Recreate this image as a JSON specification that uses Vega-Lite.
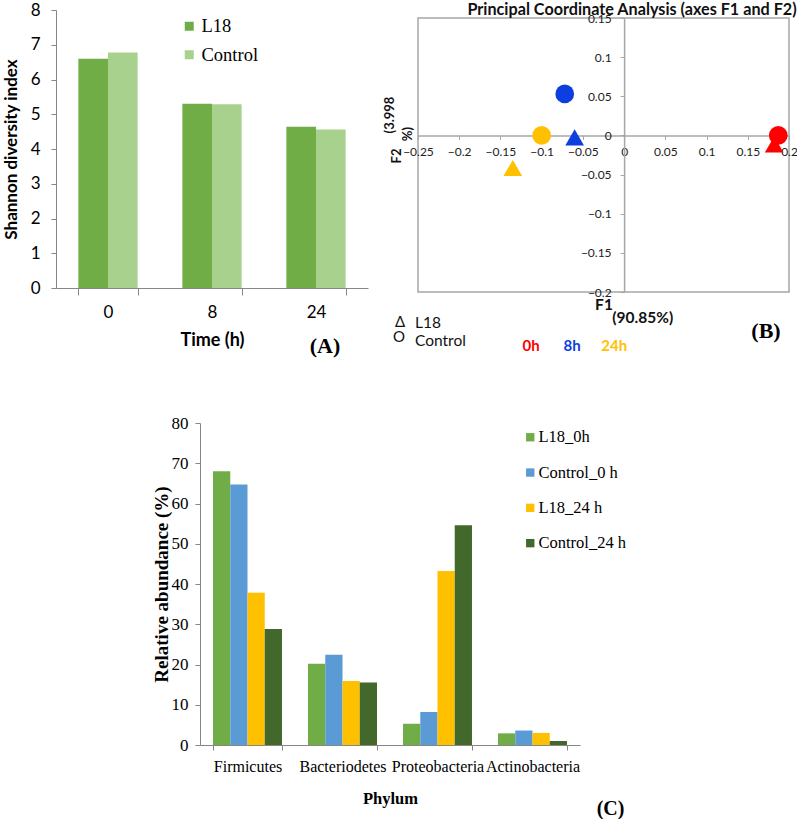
{
  "$schema": "https://vega.github.io/schema/vega-lite/v6.json",
  "background": "white",
  "padding": {"left": 2, "top": 1, "right": 0, "bottom": 0},
  "config": {
    "view": {"stroke": null},
    "axis": {"grid": false, "domainColor": "#868686", "tickColor": "#868686", "labelColor": "#000000", "titleColor": "#000000", "labelOverlap": false}
  },
  "resolve": {"scale": {"color": "independent", "shape": "independent", "x": "independent", "y": "independent", "xOffset": "independent"}, "legend": {"color": "independent", "shape": "independent"}},
  "spacing": 56,
  "vconcat": [
    {
      "hconcat": [
        {
          "width": 312,
          "height": 278,
          "data": {"values": [
            {"Time": "0", "Group": "L18", "Shannon": 6.6},
            {"Time": "0", "Group": "Control", "Shannon": 6.78},
            {"Time": "8", "Group": "L18", "Shannon": 5.3},
            {"Time": "8", "Group": "Control", "Shannon": 5.29},
            {"Time": "24", "Group": "L18", "Shannon": 4.64},
            {"Time": "24", "Group": "Control", "Shannon": 4.56}
          ]},
          "layer": [
            {
              "mark": {"type": "bar"},
              "encoding": {
                "x": {"field": "Time", "type": "nominal", "sort": ["0", "8", "24"],
                  "scale": {"paddingInner": 0.43, "paddingOuter": 0.215},
                  "axis": {"title": "Time (h)", "labelAngle": 0, "tickBand": "extent", "tickSize": 7, "labelPadding": 9,
                    "labelFont": "Lato", "labelFontSize": 17, "titleFont": "Lato", "titleFontSize": 18, "titleFontWeight": "bold", "titlePadding": 11}},
                "xOffset": {"field": "Group", "type": "nominal", "sort": ["L18", "Control"]},
                "y": {"field": "Shannon", "type": "quantitative", "scale": {"domain": [0, 8], "nice": false},
                  "axis": {"title": "Shannon diversity index", "values": [0, 1, 2, 3, 4, 5, 6, 7, 8], "tickCount": 20, "format": "d", "tickSize": 5, "labelPadding": 11, "labelOverlap": false,
                    "labelFont": "Lato", "labelFontSize": 17, "titleFont": "Lato", "titleFontSize": 17, "titleFontWeight": "bold", "titlePadding": 10}},
                "color": {"field": "Group", "type": "nominal", "sort": ["L18", "Control"],
                  "scale": {"domain": ["L18", "Control"], "range": ["#70AD47", "#A9D18E"]},
                  "legend": {"title": null, "orient": "none", "legendX": 124, "legendY": 7, "padding": 0, "symbolType": "square", "symbolSize": 81,
                    "symbolStrokeWidth": 0, "labelFont": "Liberation Serif", "labelFontSize": 18.5, "labelColor": "#000000", "rowPadding": 9.5, "labelOffset": 3}}
              }
            },
            {
              "data": {"values": [{}]},
              "mark": {"type": "text", "font": "Liberation Serif", "fontSize": 22, "fontWeight": "bold", "dx": 9, "color": "#000000"},
              "encoding": {"x": {"datum": "24"}, "y": {"datum": -1.68}, "text": {"value": "(A)"}}
            }
          ]
        },
        {
          "vconcat": [
            {
              "width": 1,
              "height": 1,
              "data": {"values": [{}]},
              "mark": {"type": "point", "opacity": 0, "size": 0},
              "encoding": {}
            },
            {
              "width": 371,
              "height": 274,
              "view": {"stroke": "#A6A6A6", "strokeWidth": 1.5},
              "layer": [
                {
                  "data": {"values": [
                    {"Group": "L18", "Time": "0h", "F1": 0.182, "F2": -0.0116},
                    {"Group": "L18", "Time": "8h", "F1": -0.06, "F2": -0.0026},
                    {"Group": "L18", "Time": "24h", "F1": -0.135, "F2": -0.0416},
                    {"Group": "Control", "Time": "0h", "F1": 0.187, "F2": 0.0},
                    {"Group": "Control", "Time": "8h", "F1": -0.072, "F2": 0.053},
                    {"Group": "Control", "Time": "24h", "F1": -0.1, "F2": 0.0}
                  ]},
                  "mark": {"type": "point", "filled": true, "opacity": 1, "size": 350},
                  "encoding": {
                    "x": {"field": "F1", "type": "quantitative", "scale": {"domain": [-0.25, 0.2], "nice": false, "zero": false},
                      "axis": {"title": null, "orient": "bottom", "offset": -156.6, "values": [-0.25, -0.2, -0.15, -0.1, -0.05, 0, 0.05, 0.1, 0.15, 0.2], "tickCount": 20,
                        "format": "~g", "tickSize": 4, "labelPadding": 7, "labelFont": "Lato", "labelFontSize": 12, "labelColor": "#222222",
                        "labelFlush": false, "labelOverlap": false, "domainColor": "#A6A6A6", "domainWidth": 1.5, "tickColor": "#A6A6A6"}},
                    "y": {"field": "F2", "type": "quantitative", "scale": {"domain": [-0.2, 0.15], "nice": false, "zero": false},
                      "axis": {"title": null, "orient": "left", "offset": -206.1, "values": [-0.2, -0.15, -0.1, -0.05, 0, 0.05, 0.1, 0.15], "tickCount": 20,
                        "format": "~g", "tickSize": 4, "labelPadding": 9, "labelFont": "Lato", "labelFontSize": 12, "labelColor": "#222222",
                        "labelFlush": false, "labelOverlap": false, "domainColor": "#A6A6A6", "domainWidth": 1.5, "tickColor": "#A6A6A6"}},
                    "shape": {"field": "Group", "type": "nominal", "scale": {"domain": ["L18", "Control"], "range": ["triangle-up", "circle"]}, "legend": null},
                    "color": {"field": "Time", "type": "nominal", "scale": {"domain": ["0h", "8h", "24h"], "range": ["#FF0000", "#0D3FE0", "#FFC000"]}, "legend": null}
                  }
                },
                {"data": {"values": [{}]}, "mark": {"type": "text", "font": "Lato", "fontSize": 16.2, "fontWeight": "bold", "color": "#111111", "align": "center", "baseline": "middle"},
                  "encoding": {"x": {"datum": 0.0096}, "y": {"datum": 0.1602}, "text": {"value": "Principal Coordinate Analysis (axes F1 and F2)"}}},
                {"data": {"values": [{}]}, "mark": {"type": "text", "font": "Lato", "fontSize": 15.5, "fontWeight": "bold", "color": "#111111", "align": "center", "baseline": "middle"},
                  "encoding": {"x": {"datum": -0.0244}, "y": {"datum": -0.2166}, "text": {"value": "F1"}}},
                {"data": {"values": [{}]}, "mark": {"type": "text", "font": "Lato", "fontSize": 15.5, "fontWeight": "bold", "color": "#111111", "align": "center", "baseline": "middle"},
                  "encoding": {"x": {"datum": 0.0226}, "y": {"datum": -0.2332}, "text": {"value": "(90.85%)"}}},
                {"data": {"values": [{}]}, "mark": {"type": "text", "font": "Lato", "fontSize": 13, "fontWeight": "bold", "color": "#111111", "align": "center", "baseline": "middle", "angle": 270},
                  "encoding": {"x": {"datum": -0.2834}, "y": {"datum": 0.0261}, "text": {"value": "(3.998"}}},
                {"data": {"values": [{}]}, "mark": {"type": "text", "font": "Lato", "fontSize": 13, "fontWeight": "bold", "color": "#111111", "align": "center", "baseline": "middle", "angle": 270},
                  "encoding": {"x": {"datum": -0.2755}, "y": {"datum": -0.0263}, "text": {"value": "F2"}}},
                {"data": {"values": [{}]}, "mark": {"type": "text", "font": "Lato", "fontSize": 13, "fontWeight": "bold", "color": "#111111", "align": "center", "baseline": "middle", "angle": 270},
                  "encoding": {"x": {"datum": -0.2621}, "y": {"datum": 0.0018}, "text": {"value": "%)"}}},
                {"data": {"values": [{}]}, "mark": {"type": "text", "font": "Lato", "fontSize": 15, "color": "#111111", "align": "center", "baseline": "middle"},
                  "encoding": {"x": {"datum": -0.2718}, "y": {"datum": -0.2377}, "text": {"value": "Δ"}}},
                {"data": {"values": [{}]}, "mark": {"type": "text", "font": "Lato", "fontSize": 15, "color": "#111111", "align": "center", "baseline": "middle"},
                  "encoding": {"x": {"datum": -0.273}, "y": {"datum": -0.2575}, "text": {"value": "O"}}},
                {"data": {"values": [{}]}, "mark": {"type": "text", "font": "Lato", "fontSize": 15.5, "color": "#111111", "align": "left", "baseline": "middle"},
                  "encoding": {"x": {"datum": -0.2536}, "y": {"datum": -0.2396}, "text": {"value": "L18"}}},
                {"data": {"values": [{}]}, "mark": {"type": "text", "font": "Lato", "fontSize": 15.5, "color": "#111111", "align": "left", "baseline": "middle"},
                  "encoding": {"x": {"datum": -0.2536}, "y": {"datum": -0.2626}, "text": {"value": "Control"}}},
                {"data": {"values": [{}]}, "mark": {"type": "text", "font": "Lato", "fontSize": 15, "fontWeight": "bold", "color": "#FF0000", "align": "center", "baseline": "middle"},
                  "encoding": {"x": {"datum": -0.1129}, "y": {"datum": -0.2686}, "text": {"value": "0h"}}},
                {"data": {"values": [{}]}, "mark": {"type": "text", "font": "Lato", "fontSize": 15, "fontWeight": "bold", "color": "#0D3FE0", "align": "center", "baseline": "middle"},
                  "encoding": {"x": {"datum": -0.0632}, "y": {"datum": -0.2686}, "text": {"value": "8h"}}},
                {"data": {"values": [{}]}, "mark": {"type": "text", "font": "Lato", "fontSize": 15, "fontWeight": "bold", "color": "#FFC000", "align": "center", "baseline": "middle"},
                  "encoding": {"x": {"datum": -0.0119}, "y": {"datum": -0.2686}, "text": {"value": "24h"}}},
                {"data": {"values": [{}]}, "mark": {"type": "text", "font": "Liberation Serif", "fontSize": 22, "fontWeight": "bold", "color": "#000000", "align": "center", "baseline": "middle"},
                  "encoding": {"x": {"datum": 0.1721}, "y": {"datum": -0.2502}, "text": {"value": "(B)"}}}
              ]
            }
          ],
          "spacing": -10
        }
      ],
      "spacing": 15,
      "resolve": {"scale": {"color": "independent", "shape": "independent", "x": "independent", "y": "independent", "xOffset": "independent"}, "legend": {"color": "independent", "shape": "independent"}}
    },
    {
      "hconcat": [
        {
          "width": 96,
          "height": 1,
          "data": {"values": [{}]},
          "mark": {"type": "point", "opacity": 0, "size": 0},
          "encoding": {}
        },
        {
          "width": 380,
          "height": 322,
          "data": {"values": [
            {"Phylum": "Firmicutes", "Sample": "L18_0h", "Abundance": 68.0},
            {"Phylum": "Firmicutes", "Sample": "Control_0 h", "Abundance": 64.7},
            {"Phylum": "Firmicutes", "Sample": "L18_24 h", "Abundance": 37.8},
            {"Phylum": "Firmicutes", "Sample": "Control_24 h", "Abundance": 28.8},
            {"Phylum": "Bacteriodetes", "Sample": "L18_0h", "Abundance": 20.2},
            {"Phylum": "Bacteriodetes", "Sample": "Control_0 h", "Abundance": 22.4},
            {"Phylum": "Bacteriodetes", "Sample": "L18_24 h", "Abundance": 15.9},
            {"Phylum": "Bacteriodetes", "Sample": "Control_24 h", "Abundance": 15.5},
            {"Phylum": "Proteobacteria", "Sample": "L18_0h", "Abundance": 5.3},
            {"Phylum": "Proteobacteria", "Sample": "Control_0 h", "Abundance": 8.2},
            {"Phylum": "Proteobacteria", "Sample": "L18_24 h", "Abundance": 43.2},
            {"Phylum": "Proteobacteria", "Sample": "Control_24 h", "Abundance": 54.6},
            {"Phylum": "Actinobacteria", "Sample": "L18_0h", "Abundance": 2.9},
            {"Phylum": "Actinobacteria", "Sample": "Control_0 h", "Abundance": 3.6},
            {"Phylum": "Actinobacteria", "Sample": "L18_24 h", "Abundance": 3.0},
            {"Phylum": "Actinobacteria", "Sample": "Control_24 h", "Abundance": 1.0}
          ]},
          "layer": [
            {
              "mark": {"type": "bar"},
              "encoding": {
                "x": {"field": "Phylum", "type": "nominal", "sort": ["Firmicutes", "Bacteriodetes", "Proteobacteria", "Actinobacteria"],
                  "scale": {"paddingInner": 0.274, "paddingOuter": 0.137},
                  "axis": {"title": "Phylum", "labelAngle": 0, "tickBand": "extent", "tickSize": 5, "labelPadding": 8.5, "labelOverlap": false,
                    "labelFont": "Liberation Serif", "labelFontSize": 16, "titleFont": "Liberation Serif", "titleFontSize": 16.5, "titleFontWeight": "bold", "titlePadding": 16}},
                "xOffset": {"field": "Sample", "type": "nominal", "sort": ["L18_0h", "Control_0 h", "L18_24 h", "Control_24 h"]},
                "y": {"field": "Abundance", "type": "quantitative", "scale": {"domain": [0, 80], "nice": false},
                  "axis": {"title": "Relative abundance (%)", "values": [0, 10, 20, 30, 40, 50, 60, 70, 80], "tickCount": 20, "format": "d", "tickSize": 5, "labelPadding": 7, "labelOverlap": false,
                    "labelFont": "Liberation Serif", "labelFontSize": 17, "titleFont": "Liberation Serif", "titleFontSize": 19, "titleFontWeight": "bold", "titlePadding": 0}},
                "color": {"field": "Sample", "type": "nominal", "sort": ["L18_0h", "Control_0 h", "L18_24 h", "Control_24 h"],
                  "scale": {"domain": ["L18_0h", "Control_0 h", "L18_24 h", "Control_24 h"], "range": ["#70AD47", "#5B9BD5", "#FFC000", "#43682B"]},
                  "legend": {"title": null, "orient": "none", "legendX": 322, "legendY": 6, "padding": 0, "symbolType": "square", "symbolSize": 70,
                    "symbolStrokeWidth": 0, "labelFont": "Liberation Serif", "labelFontSize": 16.5, "labelColor": "#000000", "rowPadding": 18.3, "labelOffset": 0}}
              }
            },
            {
              "data": {"values": [{}]},
              "mark": {"type": "text", "font": "Liberation Serif", "fontSize": 20, "fontWeight": "bold", "dx": 78, "color": "#000000"},
              "encoding": {"x": {"datum": "Actinobacteria"}, "y": {"datum": -15.8}, "text": {"value": "(C)"}}
            }
          ]
        }
      ],
      "spacing": 0,
      "resolve": {"scale": {"color": "independent", "x": "independent", "y": "independent", "xOffset": "independent"}, "legend": {"color": "independent"}}
    }
  ]
}
